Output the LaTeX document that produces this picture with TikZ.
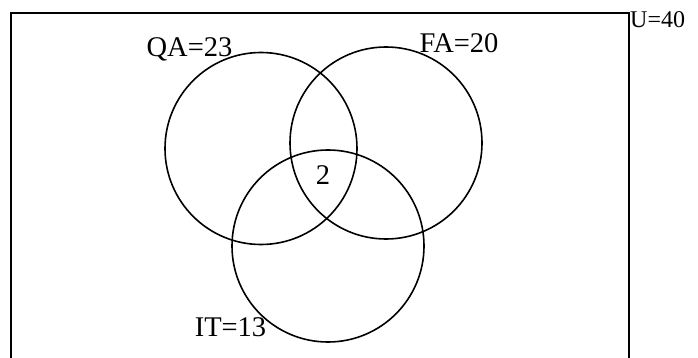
\documentclass[tikz,border=0pt]{standalone}
\usepackage{fontspec}
\setmainfont{Liberation Serif}
\begin{document}
\begin{tikzpicture}[x=1pt,y=-1pt,
  setcircle/.style={draw=black,line width=1.6pt,circle,minimum size=192pt,inner sep=0pt},
  lbl/.style={inner sep=0pt,anchor=base,font=\fontsize{28.5}{30}\selectfont},
  ulbl/.style={inner sep=0pt,anchor=base west,font=\fontsize{24}{26}\selectfont}]
\useasboundingbox (0,0) rectangle (698,358);
\clip (0,0) rectangle (698,358);
\draw[line width=2pt] (11,13) rectangle (629,380);
\node[setcircle] (qa) at (261,148.5) {};
\node[setcircle] (fa) at (386,143) {};
\node[setcircle] (it) at (328,246) {};
\node[lbl] (qalbl) at (189.5,57) {QA=23};
\node[lbl] (falbl) at (459,53) {FA=20};
\node[lbl] (itlbl) at (230.5,336) {IT=13};
\node[lbl] (center) at (323,185) {2};
\node[ulbl] (ulbl) at (630,28) {U=40};
\end{tikzpicture}
\end{document}
